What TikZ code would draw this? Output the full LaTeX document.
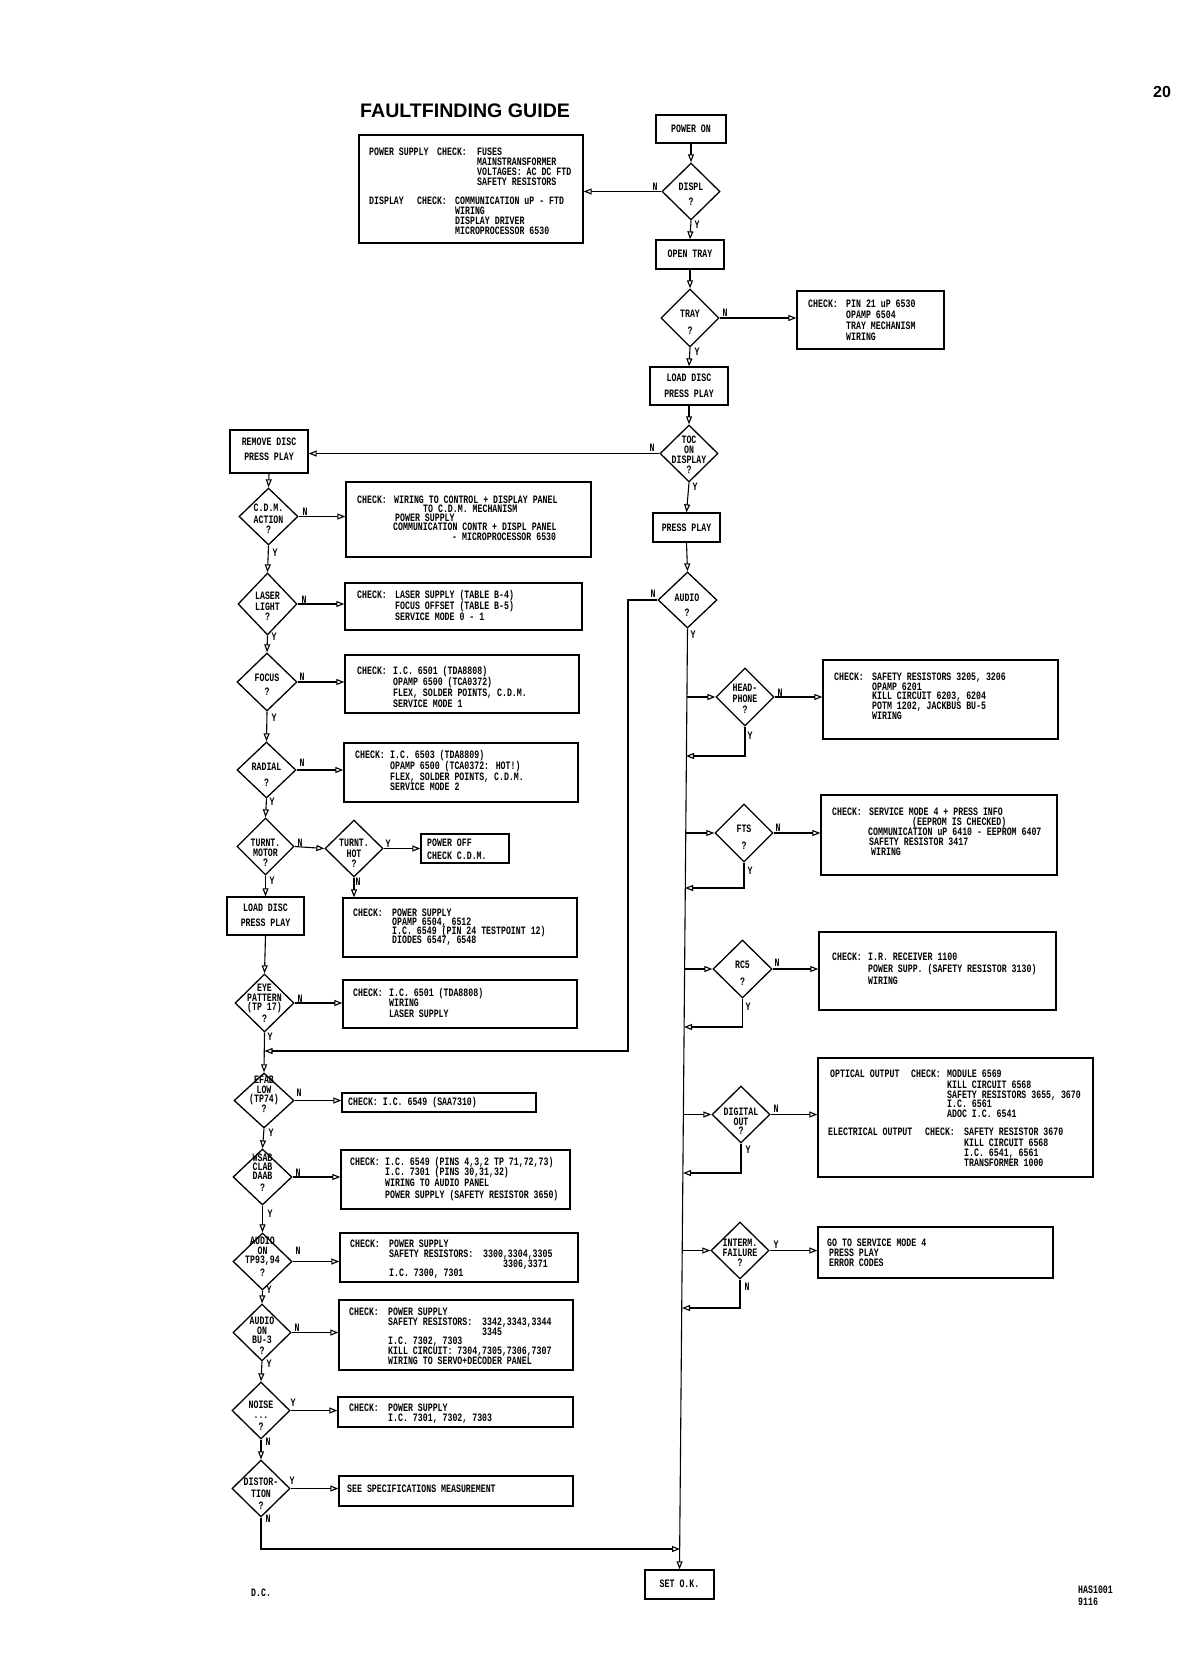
\documentclass[tikz,border=0pt]{standalone}
\usepackage{fontspec}
\setmainfont{Liberation Sans}
\newfontfamily\monof[FakeStretch=0.73]{Liberation Mono}
\usetikzlibrary{arrows.meta,shapes.geometric}
\newcommand\chkfont{\monof\bfseries\fontsize{11.3}{10}\selectfont}
\newcount\tcnt
\tikzset{
  box/.style={draw,line width=1.3pt,inner sep=0pt},
  dia/.style={draw,diamond,line width=1.3pt,inner sep=0pt},
  tl/.style={anchor=base west,inner sep=0pt,font=\chkfont},
  tc/.style={anchor=base,inner sep=0pt,font=\chkfont},
  ln/.style={line width=1.1pt},
  ar/.style={line width=1.1pt,-{Triangle[open,length=8pt,width=6pt]}},
}
\newcommand\mkbox[5]{\node[box,minimum width={#4-#2},minimum height={#5-#3}] (#1) at ({(#2+#4)/2},{(#3+#5)/2}) {};}
\newcommand\mkdia[5]{\node[dia,minimum width={#4-#2},minimum height={#5-#3}] (#1) at ({(#2+#4)/2},{(#3+#5)/2}) {};}
\newcommand\tlft[3]{\global\advance\tcnt by 1 \node[tl] (t\the\tcnt) at (#1,{#2+3.6}) {#3};}
\newcommand\tctr[3]{\global\advance\tcnt by 1 \node[tc] (t\the\tcnt) at (#1,{#2+3.6}) {#3};}
\begin{document}
\begin{tikzpicture}[x=1pt,y=-1pt]
\useasboundingbox (0,0) rectangle (1193,1672);
\fill[white] (0,0) rectangle (1193,1672);
% titles
\node[anchor=base west,inner sep=0pt,font=\bfseries\fontsize{19.6}{20}\selectfont] (title) at (360,118) {FAULTFINDING GUIDE};
\node[anchor=base west,inner sep=0pt,font=\bfseries\fontsize{16}{16}\selectfont] (pgno) at (1153,98) {20};
% ---------- main column
\mkbox{pon}{656}{115}{726}{143}
\mkdia{displ}{662}{163}{720}{220}
\mkbox{big}{359}{135}{583}{243}
\mkbox{otray}{656}{240}{724}{269}
\mkdia{tray}{661}{289}{719}{347}
\mkbox{trayck}{797}{291}{944}{349}
\mkbox{ldisc}{650}{367}{728}{405}
\mkdia{toc}{660}{425}{718}{482}
\mkbox{rd}{230}{430}{308}{473}
\mkbox{pplay}{653}{513}{720}{542}
\mkdia{audio}{658}{572}{717}{628}
% ---------- left column
\mkdia{cdm}{239}{488}{298}{545}
\mkbox{cdmck}{346}{482}{591}{557}
\mkdia{laser}{238}{573}{297}{635}
\mkbox{laserck}{345}{583}{582}{630}
\mkdia{focus}{237}{653}{297}{711}
\mkbox{focusck}{345}{655}{579}{713}
\mkdia{radial}{237}{742}{296}{798}
\mkbox{radialck}{344}{743}{578}{802}
\mkdia{motor}{237}{818}{294}{875}
\mkdia{hot}{325}{820}{383}{877}
\mkbox{poff}{421}{834}{509}{863}
\mkbox{hotck}{343}{898}{577}{957}
\mkbox{ldtwo}{227}{897}{304}{935}
\mkdia{eye}{235}{974}{294}{1032}
\mkbox{eyeck}{343}{980}{577}{1028}
\mkdia{efab}{234}{1073}{294}{1128}
\mkbox{efabck}{342}{1093}{536}{1112}
\mkdia{wsab}{233}{1149}{292}{1205}
\mkbox{wsabck}{341}{1150}{570}{1209}
\mkdia{aon}{233}{1233}{292}{1290}
\mkbox{aonck}{340}{1233}{578}{1282}
\mkdia{buthree}{233}{1304}{291}{1361}
\mkbox{buck}{339}{1300}{573}{1370}
\mkdia{noise}{232}{1382}{290}{1439}
\mkbox{noiseck}{338}{1397}{573}{1427}
\mkdia{dist}{232}{1460}{290}{1517}
\mkbox{distck}{339}{1476}{573}{1506}
\mkbox{setok}{645}{1570}{714}{1599}
% ---------- right column
\mkdia{hp}{716}{668}{774}{726}
\mkbox{hpck}{823}{660}{1058}{739}
\mkdia{fts}{715}{804}{773}{862}
\mkbox{ftsck}{821}{795}{1057}{875}
\mkdia{rcf}{713}{940}{772}{998}
\mkbox{rcfck}{819}{932}{1056}{1010}
\mkdia{dig}{712}{1086}{770}{1143}
\mkbox{digck}{818}{1058}{1093}{1177}
\mkdia{int}{711}{1222}{769}{1279}
\mkbox{intck}{818}{1227}{1053}{1278}
% ---------- coordinates on main line
\coordinate (mhp) at (686.5,697);
\coordinate (mhpr) at (686,756);
\coordinate (mfts) at (685.5,833);
\coordinate (mftsr) at (685,888);
\coordinate (mrc) at (684.4,969);
\coordinate (mrcr) at (684,1027);
\coordinate (mdig) at (683.4,1114.5);
\coordinate (mdigr) at (683,1173);
\coordinate (mint) at (682.3,1250.5);
\coordinate (mintr) at (682,1308);
\coordinate (mdist) at (680,1549);
\coordinate (aN) at (628,1051);
% ---------- connectors main column
\draw[ar] (pon.south) -- (displ.north);
\draw[ar] (displ.west) -- (displ.west -| big.east);
\draw[ar] (displ.south) -- (otray.north);
\draw[ar] (otray.south) -- (tray.north);
\draw[ar] (tray.east) -- (tray.east -| trayck.west);
\draw[ar] (tray.south) -- (ldisc.north);
\draw[ar] (ldisc.south) -- (toc.north);
\draw[ar] (toc.west) -- (toc.west -| rd.east);
\draw[ar] (toc.south) -- (pplay.north);
\draw[ar] (pplay.south) -- (audio.north);
\draw[ar] (audio.west) -| (aN) -- (eye.south |- aN);
\draw[ar] (audio.south) -- (setok.north);
% right branches
\draw[ar] (mhp) -- (hp.west);
\draw[ar] (hp.east) -- (hp.east -| hpck.west);
\draw[ar] (hp.south) |- (mhpr);
\draw[ar] (mfts) -- (fts.west);
\draw[ar] (fts.east) -- (fts.east -| ftsck.west);
\draw[ar] (fts.south) |- (mftsr);
\draw[ar] (mrc) -- (rcf.west);
\draw[ar] (rcf.east) -- (rcf.east -| rcfck.west);
\draw[ar] (rcf.south) |- (mrcr);
\draw[ar] (mdig) -- (dig.west);
\draw[ar] (dig.east) -- (dig.east -| digck.west);
\draw[ar] (dig.south) |- (mdigr);
\draw[ar] (mint) -- (int.west);
\draw[ar] (int.east) -- (int.east -| intck.west);
\draw[ar] (int.south) |- (mintr);
% left column
\draw[ar] (rd.south) -- (cdm.north);
\draw[ar] (cdm.east) -- (cdm.east -| cdmck.west);
\draw[ar] (cdm.south) -- (laser.north);
\draw[ar] (laser.east) -- (laser.east -| laserck.west);
\draw[ar] (laser.south) -- (focus.north);
\draw[ar] (focus.east) -- (focus.east -| focusck.west);
\draw[ar] (focus.south) -- (radial.north);
\draw[ar] (radial.east) -- (radial.east -| radialck.west);
\draw[ar] (radial.south) -- (motor.north);
\draw[ar] (motor.east) -- (hot.west);
\draw[ar] (hot.east) -- (hot.east -| poff.west);
\draw[ar] (hot.south) -- (hot.south |- hotck.north);
\draw[ar] (motor.south) -- (ldtwo.north);
\draw[ar] (ldtwo.south) -- (eye.north);
\draw[ar] (eye.east) -- (eye.east -| eyeck.west);
\draw[ar] (eye.south) -- (efab.north);
\draw[ar] (efab.east) -- (efab.east -| efabck.west);
\draw[ar] (efab.south) -- (wsab.north);
\draw[ar] (wsab.east) -- (wsab.east -| wsabck.west);
\draw[ar] (wsab.south) -- (aon.north);
\draw[ar] (aon.east) -- (aon.east -| aonck.west);
\draw[ar] (aon.south) -- (buthree.north);
\draw[ar] (buthree.east) -- (buthree.east -| buck.west);
\draw[ar] (buthree.south) -- (noise.north);
\draw[ar] (noise.east) -- (noise.east -| noiseck.west);
\draw[ar] (noise.south) -- (dist.north);
\draw[ar] (dist.east) -- (dist.east -| distck.west);
\draw[ar] (dist.south) |- (mdist);
% ---------- texts in main column
\tctr{691}{129}{POWER ON}
\tctr{691}{187}{DISPL}\tctr{691}{202}{?}
\tctr{690}{254}{OPEN TRAY}
\tctr{690}{314}{TRAY}\tctr{690}{331}{?}
\tctr{689}{378}{LOAD DISC}\tctr{689}{394}{PRESS PLAY}
\tctr{689}{440}{TOC}\tctr{689}{450}{ON}\tctr{689}{460}{DISPLAY}\tctr{689}{470}{?}
\tctr{686.5}{528}{PRESS PLAY}
\tctr{687}{598}{AUDIO}\tctr{687}{613}{?}
\tctr{679.5}{1584}{SET O.K.}
% big box
\tlft{369}{152}{POWER SUPPLY}
\tlft{437}{152}{CHECK:}
\tlft{477}{152}{FUSES}
\tlft{477}{162}{MAINSTRANSFORMER}
\tlft{477}{172}{VOLTAGES: AC DC FTD}
\tlft{477}{182}{SAFETY RESISTORS}
\tlft{369}{201}{DISPLAY}
\tlft{417}{201}{CHECK:}
\tlft{455}{201}{COMMUNICATION uP - FTD}
\tlft{455}{211}{WIRING}
\tlft{455}{221}{DISPLAY DRIVER}
\tlft{455}{231}{MICROPROCESSOR 6530}
% tray check
\tlft{808}{304}{CHECK:}
\tlft{846}{304}{PIN 21 uP 6530}
\tlft{846}{315}{OPAMP 6504}
\tlft{846}{326}{TRAY MECHANISM}
\tlft{846}{337}{WIRING}
% left column texts
\tctr{269}{442}{REMOVE DISC}\tctr{269}{457}{PRESS PLAY}
\tctr{268.5}{508}{C.D.M.}\tctr{268.5}{520}{ACTION}\tctr{268.5}{530}{?}
\tlft{357}{500}{CHECK:}
\tlft{394}{500}{WIRING TO CONTROL + DISPLAY PANEL}
\tlft{423}{509}{TO C.D.M. MECHANISM}
\tlft{395}{518}{POWER SUPPLY}
\tlft{393}{527}{COMMUNICATION CONTR + DISPL PANEL}
\tlft{452}{537}{- MICROPROCESSOR 6530}
\tctr{267.5}{596}{LASER}\tctr{267.5}{607}{LIGHT}\tctr{267.5}{617}{?}
\tlft{357}{595}{CHECK:}
\tlft{395}{595}{LASER SUPPLY (TABLE B-4)}
\tlft{395}{606}{FOCUS OFFSET (TABLE B-5)}
\tlft{395}{617}{SERVICE MODE 0 - 1}
\tctr{267}{678}{FOCUS}\tctr{267}{692}{?}
\tlft{357}{671}{CHECK:}
\tlft{393}{671}{I.C. 6501 (TDA8808)}
\tlft{393}{682}{OPAMP 6500 (TCA0372)}
\tlft{393}{693}{FLEX, SOLDER POINTS, C.D.M.}
\tlft{393}{704}{SERVICE MODE 1}
\tctr{266.5}{767}{RADIAL}\tctr{266.5}{783}{?}
\tlft{355}{755}{CHECK:}
\tlft{390}{755}{I.C. 6503 (TDA8809)}
\tlft{390}{766}{OPAMP 6500 (TCA0372: HOT!)}
\tlft{390}{777}{FLEX, SOLDER POINTS, C.D.M.}
\tlft{390}{787}{SERVICE MODE 2}
\tctr{265.5}{843}{TURNT.}\tctr{265.5}{853}{MOTOR}\tctr{265.5}{863}{?}
\tctr{354}{843}{TURNT.}\tctr{354}{854}{HOT}\tctr{354}{864}{?}
\tlft{427}{843}{POWER OFF}
\tlft{427}{856}{CHECK C.D.M.}
\tlft{353}{913}{CHECK:}
\tlft{392}{913}{POWER SUPPLY}
\tlft{392}{922}{OPAMP 6504, 6512}
\tlft{392}{931}{I.C. 6549 (PIN 24 TESTPOINT 12)}
\tlft{392}{940}{DIODES 6547, 6548}
\tctr{265.5}{908}{LOAD DISC}\tctr{265.5}{923}{PRESS PLAY}
\tctr{264.5}{988}{EYE}\tctr{264.5}{997.5}{PATTERN}\tctr{264.5}{1007}{(TP 17)}\tctr{264.5}{1019}{?}
\tlft{353}{993}{CHECK:}
\tlft{389}{993}{I.C. 6501 (TDA8808)}
\tlft{389}{1003}{WIRING}
\tlft{389}{1014}{LASER SUPPLY}
\tctr{264}{1080}{EFAB}\tctr{264}{1089.5}{LOW}\tctr{264}{1099}{(TP74)}\tctr{264}{1109}{?}
\tlft{348}{1102}{CHECK: I.C. 6549 (SAA7310)}
\tctr{262.5}{1158}{WSAB}\tctr{262.5}{1167}{CLAB}\tctr{262.5}{1176}{DAAB}\tctr{262.5}{1188}{?}
\tlft{350}{1162}{CHECK:}
\tlft{385}{1162}{I.C. 6549 (PINS 4,3,2 TP 71,72,73)}
\tlft{385}{1172}{I.C. 7301 (PINS 30,31,32)}
\tlft{385}{1183}{WIRING TO AUDIO PANEL}
\tlft{385}{1195}{POWER SUPPLY (SAFETY RESISTOR 3650)}
\tctr{262.5}{1241}{AUDIO}\tctr{262.5}{1250.5}{ON}\tctr{262.5}{1260}{TP93,94}\tctr{262.5}{1273}{?}
\tlft{350}{1244}{CHECK:}
\tlft{389}{1244}{POWER SUPPLY}
\tlft{389}{1254}{SAFETY RESISTORS:}
\tlft{483}{1254}{3300,3304,3305}
\tlft{503}{1264}{3306,3371}
\tlft{389}{1273}{I.C. 7300, 7301}
\tctr{262}{1321}{AUDIO}\tctr{262}{1330.5}{ON}\tctr{262}{1340}{BU-3}\tctr{262}{1351}{?}
\tlft{349}{1312}{CHECK:}
\tlft{388}{1312}{POWER SUPPLY}
\tlft{388}{1322}{SAFETY RESISTORS:}
\tlft{482}{1322}{3342,3343,3344}
\tlft{482}{1332}{3345}
\tlft{388}{1341}{I.C. 7302, 7303}
\tlft{388}{1351}{KILL CIRCUIT: 7304,7305,7306,7307}
\tlft{388}{1361}{WIRING TO SERVO+DECODER PANEL}
\tctr{261}{1405}{NOISE}\tctr{261}{1415}{...}\tctr{261}{1427}{?}
\tlft{349}{1408}{CHECK:}
\tlft{388}{1408}{POWER SUPPLY}
\tlft{388}{1418}{I.C. 7301, 7302, 7303}
\tctr{261}{1482}{DISTOR-}\tctr{261}{1494}{TION}\tctr{261}{1506}{?}
\tlft{347}{1489}{SEE SPECIFICATIONS MEASUREMENT}
% right column texts
\tctr{745}{688}{HEAD-}\tctr{745}{699}{PHONE}\tctr{745}{710}{?}
\tlft{834}{677}{CHECK:}
\tlft{872}{677}{SAFETY RESISTORS 3205, 3206}
\tlft{872}{686.5}{OPAMP 6201}
\tlft{872}{696}{KILL CIRCUIT 6203, 6204}
\tlft{872}{706}{POTM 1202, JACKBUS BU-5}
\tlft{872}{716}{WIRING}
\tctr{744}{829}{FTS}\tctr{744}{846}{?}
\tlft{832}{812}{CHECK:}
\tlft{869}{812}{SERVICE MODE 4 + PRESS INFO}
\tlft{912}{822}{(EEPROM IS CHECKED)}
\tlft{868}{832}{COMMUNICATION uP 6410 - EEPROM 6407}
\tlft{869}{842}{SAFETY RESISTOR 3417}
\tlft{871}{851.5}{WIRING}
\tctr{742.5}{965}{RC5}\tctr{742.5}{982}{?}
\tlft{832}{957}{CHECK:}
\tlft{868}{957}{I.R. RECEIVER 1100}
\tlft{868}{969}{POWER SUPP. (SAFETY RESISTOR 3130)}
\tlft{868}{981}{WIRING}
\tctr{741}{1112}{DIGITAL}\tctr{741}{1122}{OUT}\tctr{741}{1131}{?}
\tlft{830}{1074}{OPTICAL OUTPUT}
\tlft{911}{1074}{CHECK:}
\tlft{947}{1074}{MODULE 6569}
\tlft{947}{1084.5}{KILL CIRCUIT 6568}
\tlft{947}{1094.5}{SAFETY RESISTORS 3655, 3670}
\tlft{947}{1104}{I.C. 6561}
\tlft{947}{1114}{ADOC I.C. 6541}
\tlft{828}{1132}{ELECTRICAL OUTPUT}
\tlft{925}{1132}{CHECK:}
\tlft{964}{1132}{SAFETY RESISTOR 3670}
\tlft{964}{1142.5}{KILL CIRCUIT 6568}
\tlft{964}{1153}{I.C. 6541, 6561}
\tlft{964}{1163}{TRANSFORMER 1000}
\tctr{740}{1243}{INTERM.}\tctr{740}{1253}{FAILURE}\tctr{740}{1263}{?}
\tlft{827}{1243}{GO TO SERVICE MODE 4}
\tlft{829}{1253}{PRESS PLAY}
\tlft{829}{1263}{ERROR CODES}
% ---------- Y / N labels
\tctr{655}{187}{N}\tctr{697}{225}{Y}
\tctr{725}{313}{N}\tctr{697}{352}{Y}
\tctr{652}{448}{N}\tctr{695}{487}{Y}
\tctr{653}{594}{N}\tctr{693}{635}{Y}
\tctr{780}{693}{N}\tctr{750}{736}{Y}
\tctr{778}{828}{N}\tctr{750}{871}{Y}
\tctr{777}{963}{N}\tctr{748}{1007}{Y}
\tctr{776}{1109}{N}\tctr{748}{1150}{Y}
\tctr{776}{1245}{Y}\tctr{747}{1287}{N}
\tctr{305}{512}{N}\tctr{275}{553}{Y}
\tctr{304}{600}{N}\tctr{274}{637}{Y}
\tctr{302}{677}{N}\tctr{274}{718}{Y}
\tctr{302}{763}{N}\tctr{272}{802}{Y}
\tctr{300}{843}{N}\tctr{272}{881}{Y}
\tctr{388}{844}{Y}\tctr{358}{882}{N}
\tctr{300}{999}{N}\tctr{270}{1037}{Y}
\tctr{299}{1093}{N}\tctr{271}{1133}{Y}
\tctr{298}{1173}{N}\tctr{270}{1214}{Y}
\tctr{298}{1251}{N}\tctr{269}{1290}{Y}
\tctr{297}{1328}{N}\tctr{269}{1364}{Y}
\tctr{293}{1403}{Y}\tctr{268}{1442}{N}
\tctr{292}{1481}{Y}\tctr{268}{1519}{N}
% ---------- footer
\tlft{251}{1593}{D.C.}
\tlft{1078}{1590}{HAS1001}
\tlft{1078}{1602}{9116}
\end{tikzpicture}
\end{document}
